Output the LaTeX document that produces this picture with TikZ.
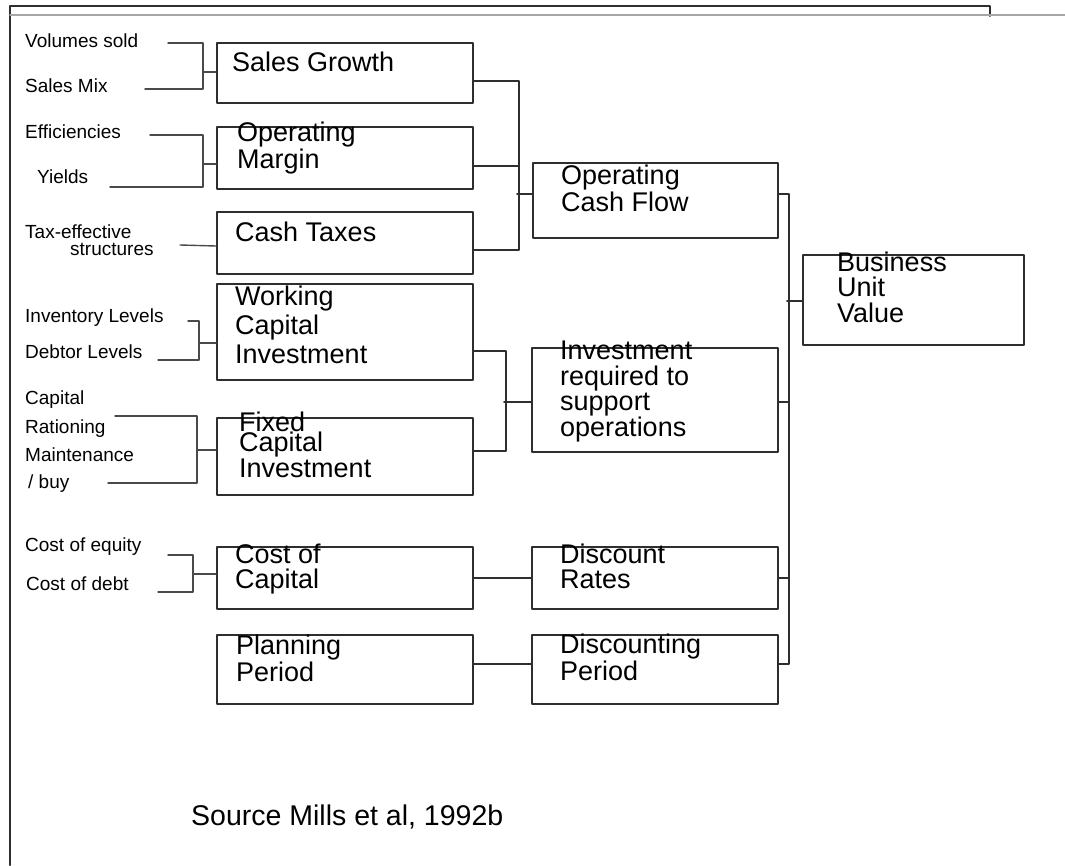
\documentclass[tikz,border=0pt]{standalone}
\usepackage{fontspec}
\setmainfont{Liberation Sans}
\definecolor{linec}{HTML}{2E2E2E}
\definecolor{leadc}{HTML}{4A4A4A}
\tikzset{
  box/.style={draw=linec, line width=2pt, inner sep=0pt, anchor=north west},
  link/.style={draw=linec, line width=1.6pt},
  lead/.style={draw=leadc, line width=1.4pt},
  btxt/.style={anchor=base west, inner sep=0pt, align=left, font=\fontsize{27}{#1}\selectfont},
  btxt/.default=25,
  lbl/.style={anchor=base west, inner sep=0pt, align=left, font=\fontsize{19}{#1}\selectfont},
  lbl/.default=22,
}
\begin{document}
\begin{tikzpicture}[x=1pt, y=-1pt, line join=round, line cap=round]
	%Khung.
	\useasboundingbox (0,0) rectangle (1065,865);
	\draw[link, line width=2pt] (10,865) -- (10,6) -- (990,6) -- (990,16);
	\draw[lead, gray!70] (10,15) -- (1065,15);
	%Hộp cột 1.
	\node[box, minimum width=256pt, minimum height=60pt] (sg) at (216,42) {};
	\node[box, minimum width=256pt, minimum height=62pt] (om) at (216,126) {};
	\node[box, minimum width=256pt, minimum height=62pt] (ct) at (216,211) {};
	\node[box, minimum width=256pt, minimum height=96pt] (wci) at (216,283) {};
	\node[box, minimum width=256pt, minimum height=77pt] (fci) at (216,417) {};
	\node[box, minimum width=256pt, minimum height=62pt] (coc) at (216,546) {};
	\node[box, minimum width=256pt, minimum height=69pt] (pp) at (216,634) {};
	%Hộp cột 2.
	\node[box, minimum width=245pt, minimum height=75pt] (ocf) at (532,162) {};
	\node[box, minimum width=246pt, minimum height=104pt] (inv) at (531,347) {};
	\node[box, minimum width=246pt, minimum height=62pt] (dr) at (531,546) {};
	\node[box, minimum width=246pt, minimum height=69pt] (dp) at (531,634) {};
	%Hộp cột 3.
	\node[box, minimum width=221pt, minimum height=90pt] (buv) at (802,254) {};
	%Chữ trong hộp (gốc ở dòng cuối).
	\node[btxt] (sg-t) at (232,71) {Sales Growth};
	\node[btxt=24] (om-t) at (237,168) {Operating\\Margin};
	\node[btxt] (ct-t) at (235,241) {Cash Taxes};
	\node[btxt=29] (wci-t) at (235,363) {Working\\Capital\\Investment};
	\node[btxt=20] (fci-t) at (239,477) {Fixed\\Capital\\Investment};
	\node[btxt] (coc-t) at (235,588) {Cost of\\Capital};
	\node[btxt=24] (pp-t) at (236,681) {Planning\\Period};
	\node[btxt] (ocf-t) at (561,211) {Operating\\Cash Flow};
	\node[btxt=25.5] (inv-t) at (560,436) {Investment\\required to\\support\\operations};
	\node[btxt] (dr-t) at (560,588) {Discount\\Rates};
	\node[btxt] (dp-t) at (560,680) {Discounting\\Period};
	\node[btxt=25.5] (buv-t) at (837,322) {Business\\Unit\\Value};
	\node[anchor=base west, inner sep=0pt, font=\fontsize{28.5}{30}\selectfont] (src) at (191,825) {Source Mills et al, 1992b};
	%Nhãn bên trái.
	\node[lbl] (vs-t) at (25,47) {Volumes sold};
	\node[lbl] (sm-t) at (25,92) {Sales Mix};
	\node[lbl] (ef-t) at (25,138) {Efficiencies};
	\node[lbl] (yl-t) at (37,183) {Yields};
	\node[lbl=17] (te-t) at (25,255) {Tax-effective\\\hspace*{45pt}structures};
	\node[lbl] (il-t) at (25,322) {Inventory Levels};
	\node[lbl] (dl-t) at (25,358) {Debtor Levels};
	\node[lbl=29] (cr-t) at (25,433) {Capital\\Rationing};
	\node[lbl=27] (mb-t) at (25,488) {Maintenance\\\hspace*{3pt}/ buy};
	\node[lbl] (ce-t) at (25,551) {Cost of equity};
	\node[lbl] (cd-t) at (26,590) {Cost of debt};
	%Đầu nét nối.
	\coordinate (vs) at (168,43); \coordinate (sm) at (145,89);
	\coordinate (ef) at (150,135); \coordinate (yl) at (110,187);
	\coordinate (te) at (180,245);
	\coordinate (il) at (188,321); \coordinate (dl) at (158,360);
	\coordinate (cr) at (115,416); \coordinate (bu) at (108,483);
	\coordinate (ce) at (168,555); \coordinate (cd) at (158,592);
	%Nét nối bên trái.
	\draw[lead] (vs) -- ++(35,0) |- (sm);
	\draw[lead] ([yshift=1pt]sg.west) -- ++(-13,0);
	\draw[lead] (ef) -- ++(53,0) |- (yl);
	\draw[lead] ([yshift=-6pt]om.west) -- ++(-13,0);
	\draw[lead] (te) -- ([yshift=-3pt]ct.west);
	\draw[lead] (il) -- ++(11,0) |- (dl);
	\draw[lead] ([yshift=-11pt]wci.west) -- ++(-17,0);
	\draw[lead] (cr) -- ++(82,0) |- (bu);
	\draw[lead] ([yshift=6.5pt]fci.west) -- ++(-19,0);
	\draw[lead] (ce) -- ++(25,0) |- (cd);
	\draw[lead] ([yshift=4pt]coc.west) -- ++(-23,0);
	%Nét nối bên phải.
	\draw[link] ([yshift=-8pt]sg.east) -- ++(45,0) |- ([yshift=-7pt]ct.east);
	\draw[link] ([yshift=-8pt]om.east) -- ++(45,0);
	\draw[link] ([yshift=6.5pt]ocf.west) -- ++(-15,0);
	\draw[link] ([yshift=-19pt]wci.east) -- ++(32,0) |- ([yshift=5.5pt]fci.east);
	\draw[link] ([yshift=-2pt]inv.west) -- ++(-27,0);
	\draw[link] (coc.east) -- (dr.west);
	\draw[link] ([yshift=5.5pt]pp.east) -- ([yshift=5.5pt]dp.west);
	\draw[link] ([yshift=6.5pt]ocf.east) -- ++(10,0) |- ([yshift=5.5pt]dp.east);
	\draw[link] ([yshift=-2pt]inv.east) -- ++(10,0);
	\draw[link] (dr.east) -- ++(10,0);
	\draw[link] ([yshift=-1pt]buv.west) -- ++(-15,0);
\end{tikzpicture}
\end{document}
